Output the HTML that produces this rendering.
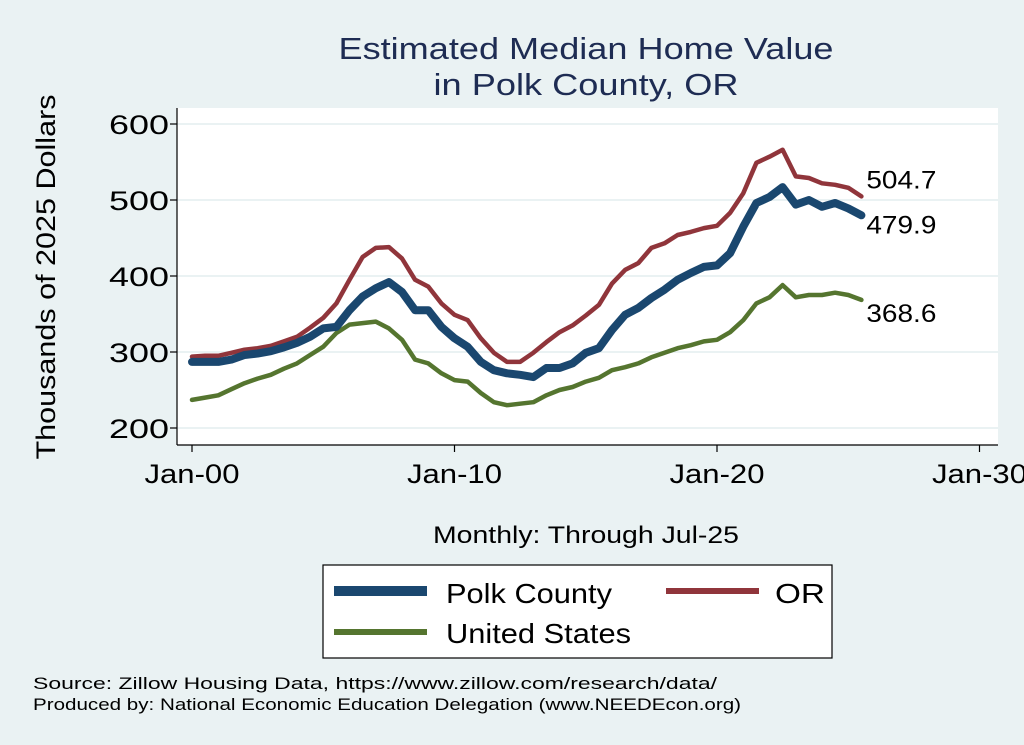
<!DOCTYPE html>
<html><head><meta charset="utf-8">
<style>
html,body{margin:0;padding:0;background:#eaf2f3;}
svg{display:block;font-family:"Liberation Sans",Arial,sans-serif;}
</style></head>
<body>
<svg id="chart" width="1024" height="745" viewBox="0 0 1024 745" xmlns="http://www.w3.org/2000/svg">
<rect x="0" y="0" width="1024" height="745" fill="#eaf2f3"/>
<text x="586" y="59" text-anchor="middle" font-size="31" fill="#1e2c53" textLength="495" lengthAdjust="spacingAndGlyphs">Estimated Median Home Value</text>
<text x="586" y="95" text-anchor="middle" font-size="31" fill="#1e2c53" textLength="305" lengthAdjust="spacingAndGlyphs">in Polk County, OR</text>
<rect x="177" y="108" width="821" height="337" fill="#ffffff"/>
<g id="grid"></g>
<g id="yticks"></g>
<g id="xticks"></g>
<text transform="translate(55,277) rotate(-90)" text-anchor="middle" font-size="27" fill="#000" textLength="365" lengthAdjust="spacingAndGlyphs">Thousands of 2025 Dollars</text>
<text x="586" y="543" text-anchor="middle" font-size="24" fill="#000" textLength="306" lengthAdjust="spacingAndGlyphs">Monthly: Through Jul-25</text>
<g id="series"></g>
<g id="endlabels"></g>
<g>
<rect x="323" y="565" width="509" height="93" fill="#fff" stroke="#000" stroke-width="1.2"/>
<line x1="334" y1="591" x2="427" y2="591" stroke="#1a476f" stroke-width="10"/>
<text x="446" y="603" font-size="28" fill="#000" textLength="166" lengthAdjust="spacingAndGlyphs">Polk County</text>
<line x1="666" y1="591" x2="759" y2="591" stroke="#90353b" stroke-width="6"/>
<text x="775" y="603" font-size="28" fill="#000" textLength="50" lengthAdjust="spacingAndGlyphs">OR</text>
<line x1="334" y1="632" x2="427" y2="632" stroke="#55752f" stroke-width="6"/>
<text x="446" y="643" font-size="28" fill="#000" textLength="185" lengthAdjust="spacingAndGlyphs">United States</text>
</g>
<text x="33" y="689" font-size="17" fill="#000" textLength="684" lengthAdjust="spacingAndGlyphs">Source: Zillow Housing Data, https://www.zillow.com/research/data/</text>
<text x="33" y="710" font-size="17" fill="#000" textLength="708" lengthAdjust="spacingAndGlyphs">Produced by: National Economic Education Delegation (www.NEEDEcon.org)</text>
</svg>
<script>
// semiannual samples from Jan-2000 (t=0) to Jul-2025 (t=25.5)
const yearsStep = 0.5;
const polk = [287,287,287,290,296,298,301,306,312,320,331,333,355,373,384,392,379,355,355,333,318,307,287,276,272,270,267,279,279,285,299,305,329,349,358,371,382,395,404,412,414,430,465,496,504,517,494,500,491,496,489,479.9];
const oregon = [294,295,295,299,303,305,308,314,320,332,345,364,395,425,437,438,423,395,386,364,349,342,318,299,287,287,299,313,326,335,348,362,390,408,417,437,443,454,458,463,466,483,509,549,557,566,531,529,522,520,516,504.7];
const us = [237,240,243,251,259,265,270,278,285,296,307,325,336,338,340,331,316,290,285,272,263,261,246,234,230,232,234,243,250,254,261,266,276,280,285,293,299,305,309,314,316,326,342,364,372,388,372,375,375,378,375,368.6];
const yTicks = [200,300,400,500,600];
const xTickYears = [0,10,20,30];
const xTickLabels = ["Jan-00","Jan-10","Jan-20","Jan-30"];
const endLabels = ["479.9","504.7","368.6"];

const NS = "http://www.w3.org/2000/svg";
function xs(t){ return 192 + 26.25*t; }
function ys(v){ return 124 + (600 - v)*0.76; }
function mk(tag, attrs, parent){ const e=document.createElementNS(NS,tag); for(const k in attrs) e.setAttribute(k,attrs[k]); parent.appendChild(e); return e; }

const grid=document.getElementById('grid'), yt=document.getElementById('yticks'), xt=document.getElementById('xticks');
yTicks.forEach(v=>{
  const g=mk('line',{x1:177,x2:998,y1:ys(v),y2:ys(v),stroke:'#eaf2f3','stroke-width':2},grid);
  
  
  const t=mk('line',{x1:170,x2:177,y1:ys(v),y2:ys(v),stroke:'#000','stroke-width':1.2},yt);
  
  
  const l=mk('text',{x:169,y:ys(v)+10,'text-anchor':'end','font-size':27,fill:'#000',textLength:60,lengthAdjust:'spacingAndGlyphs'},yt);
  l.textContent=v;
  
  
});
const ax=mk('line',{x1:177,x2:177,y1:108,y2:445,stroke:'#000','stroke-width':1.2},yt);


const bx=mk('line',{x1:177,x2:998,y1:445,y2:445,stroke:'#000','stroke-width':1.2},xt);


xTickYears.forEach((yr,i)=>{
  const t=mk('line',{x1:xs(yr),x2:xs(yr),y1:445,y2:452,stroke:'#000','stroke-width':1.2},xt);
  
  
  const l=mk('text',{x:xs(yr),y:483,'text-anchor':'middle','font-size':27,fill:'#000',textLength:95,lengthAdjust:'spacingAndGlyphs'},xt);
  l.textContent=xTickLabels[i];
  
  
});
const sg=document.getElementById('series');
function line(vals,color,w,name){
  const d=vals.map((v,i)=>(i?'L':'M')+xs(i*yearsStep).toFixed(1)+','+ys(v).toFixed(1)).join(' ');
  const p=mk('path',{d:d,fill:'none',stroke:color,'stroke-width':w,'stroke-linejoin':'round','stroke-linecap':'round'},sg);
  
  
}
line(us,'#55752f',4.5,'line-united-states');
line(oregon,'#90353b',4.5,'line-oregon');
line(polk,'#1a476f',8,'line-polk-county');
const el=document.getElementById('endlabels');
const lastX=xs((polk.length-1)*yearsStep);
[[polk,18],[oregon,-8],[us,22]].forEach((s,i)=>{
  const v=s[0][s[0].length-1];
  const t=mk('text',{x:lastX+5,y:ys(v)+s[1],'font-size':25,fill:'#000',textLength:70,lengthAdjust:'spacingAndGlyphs'},el);
  t.textContent=endLabels[i];
  
  
});
</script>
</body></html>
